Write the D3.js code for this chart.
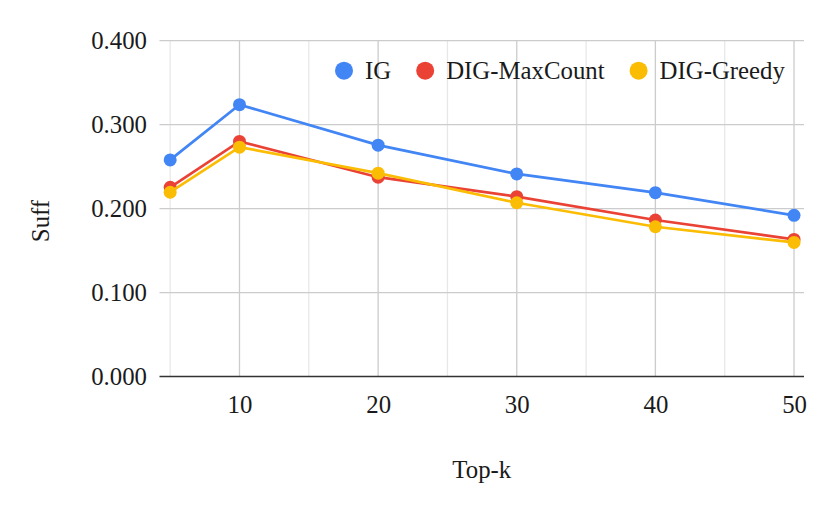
<!DOCTYPE html>
<html>
<head>
<meta charset="utf-8">
<script src="https://cdn.jsdelivr.net/npm/d3@7"></script>
<style>
  body { margin: 0; background: #fff; }
  text { font-family: "Liberation Serif", "Times New Roman", serif; fill: #1a1a1a; }
</style>
</head>
<body>
<div id="chart"></div>
<script>
// data
const topK = [5, 10, 20, 30, 40, 50];
const igValues = [0.258, 0.3238, 0.2756, 0.2413, 0.219, 0.192];
const maxCountValues = [0.2254, 0.280, 0.2374, 0.2142, 0.1864, 0.1633];
const greedyValues = [0.2195, 0.2732, 0.2422, 0.207, 0.1784, 0.1597];
const seriesNames = ["IG", "DIG-MaxCount", "DIG-Greedy"];
const xTicks = [10, 20, 30, 40, 50];
const xMinorTicks = [5, 15, 25, 35, 45];
const yTicks = [0, 0.1, 0.2, 0.3, 0.4];

const colors = ["#4285f4", "#ea4335", "#fbbc04"];

const svgWidth = 830;
const svgHeight = 510;
const fontSize = "24.8px";

const svg = d3.select("#chart")
    .append("svg")
    .attr("width", svgWidth)
    .attr("height", svgHeight);

const plot = { left: 159.5, right: 804, top: 40.7, bottom: 376.5 };

const x = d3.scaleLinear()
    .domain([4.23, 50.72])
    .range([plot.left, plot.right]);

const y = d3.scaleLinear()
    .domain([0, 0.4])
    .range([plot.bottom, plot.top]);

// gridlines
const grid = svg.append("g");

grid.selectAll(".minor")
    .data(xMinorTicks)
    .enter()
    .append("line")
    .attr("x1", d => x(d)).attr("x2", d => x(d))
    .attr("y1", plot.top).attr("y2", plot.bottom)
    .attr("stroke", "#e8e8e8")
    .attr("stroke-width", 1.3);

grid.selectAll(".major")
    .data(xTicks)
    .enter()
    .append("line")
    .attr("x1", d => x(d)).attr("x2", d => x(d))
    .attr("y1", plot.top).attr("y2", plot.bottom)
    .attr("stroke", "#cccccc")
    .attr("stroke-width", 1.3);

grid.selectAll(".hgrid")
    .data(yTicks.filter(d => d > 0))
    .enter()
    .append("line")
    .attr("x1", plot.left).attr("x2", plot.right)
    .attr("y1", d => y(d)).attr("y2", d => y(d))
    .attr("stroke", "#cccccc")
    .attr("stroke-width", 1.3);

// baseline
svg.append("line")
    .attr("x1", plot.left).attr("x2", plot.right)
    .attr("y1", y(0)).attr("y2", y(0))
    .attr("stroke", "#333")
    .attr("stroke-width", 1.5);

// axes (labels only)
const bottomAxis = d3.axisBottom(x).tickValues(xTicks).tickSize(0).tickPadding(0);
const leftAxis = d3.axisLeft(y).tickValues(yTicks).tickFormat(d3.format(".3f")).tickSize(0);

const gx = svg.append("g")
    .attr("transform", `translate(0, ${plot.bottom})`)
    .call(bottomAxis);
gx.select(".domain").remove();
gx.selectAll("text")
    .attr("dy", null)
    .attr("y", 36.5)
    .style("font-size", fontSize);

const gy = svg.append("g")
    .attr("transform", `translate(${plot.left}, 0)`)
    .call(leftAxis);
gy.select(".domain").remove();
gy.selectAll("text")
    .attr("x", -12.5)
    .attr("dy", "0.33em")
    .style("font-size", fontSize);

// axis titles
svg.append("text")
    .attr("x", (plot.left + plot.right) / 2)
    .attr("y", 478.3)
    .attr("text-anchor", "middle")
    .style("font-size", fontSize)
    .text("Top-k");

svg.append("text")
    .attr("transform", `translate(49, 221) rotate(-90)`)
    .attr("text-anchor", "middle")
    .style("font-size", fontSize)
    .text("Suff");

// lines and points
const allSeries = [igValues, maxCountValues, greedyValues];
const line = d3.line()
    .x((d, i) => x(topK[i]))
    .y(d => y(d));

allSeries.forEach(function (values, s) {
    const g = svg.append("g");
    g.append("path")
        .datum(values)
        .attr("d", line)
        .attr("fill", "none")
        .attr("stroke", colors[s])
        .attr("stroke-width", 2.7);
    g.selectAll("circle")
        .data(values)
        .enter()
        .append("circle")
        .attr("cx", (d, i) => x(topK[i]))
        .attr("cy", d => y(d))
        .attr("r", 6.5)
        .attr("fill", colors[s]);
});

// legend
const legend = svg.append("g");
let lx = 344;
seriesNames.forEach(function (name, s) {
    legend.append("circle")
        .attr("cx", lx)
        .attr("cy", 70.7)
        .attr("r", 9)
        .attr("fill", colors[s]);
    const t = legend.append("text")
        .attr("x", lx + 21)
        .attr("y", 79)
        .style("font-size", fontSize)
        .text(name);
    lx = lx + 21 + t.node().getComputedTextLength() + 34;
});
</script>
</body>
</html>
